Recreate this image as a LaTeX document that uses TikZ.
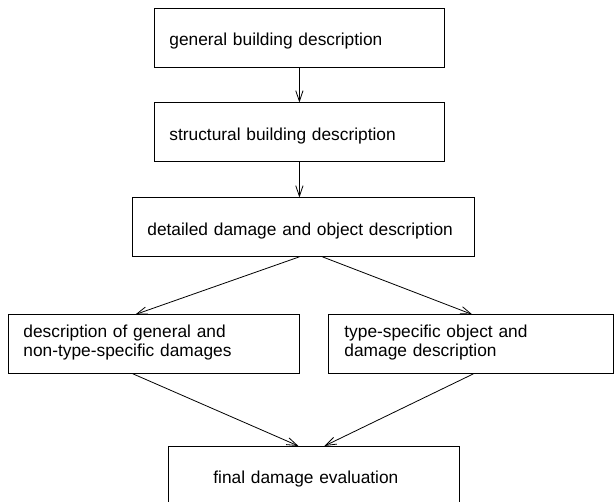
\documentclass[tikz,border=0pt]{standalone}
\usepackage{fontspec}
\setmainfont{Liberation Sans}
\usetikzlibrary{arrows.meta}

\begin{document}
\begin{tikzpicture}[x=0.75pt,y=-0.75pt,>={Straight Barb[length=8pt,width=5.5pt]},
                    line width=0.6pt,
                    box node/.style={draw,anchor=north west,align=left,inner xsep=11.25pt,
                      minimum height=43.9pt,font=\fontsize{13}{14.25}\selectfont,
                      text height=12pt,text depth=0pt},
                    two lines/.style={text height=6.8pt,text depth=17pt}]
  \useasboundingbox (0,0) rectangle (615,502);
  \node[box node,text width=195pt] (1) at (154,8) {general building description};
  \node[box node,text width=195pt] (2) at (154,102.5) {structural building description};
  \node[box node,text width=234pt] (3) at (132,197.5) {detailed damage and object description};
  \node[box node,two lines,text width=195.75pt] (4) at (8,314.5) {description of general and\\non-type-specific damages};
  \node[box node,two lines,text width=189.75pt,inner xsep=12pt] (5) at (328,314.5) {type-specific object and\\damage description};
  \node[box node,text width=150.75pt,inner xsep=33.75pt] (6) at (168,446) {final damage evaluation};
  \path[->]
    (1) edge (2)
    (2.south) edge (2.south |- 3.north)
    ([xshift=-3pt]3.south) edge ([xshift=-13.9pt]4.north)
    ([xshift=14.25pt]3.south) edge ([xshift=1.1pt]5.north)
    ([xshift=-15.75pt]4.south) edge ([xshift=-11.6pt]6.north)
    ([xshift=1.9pt]5.south) edge ([xshift=7.9pt]6.north);
\end{tikzpicture}
\end{document}
